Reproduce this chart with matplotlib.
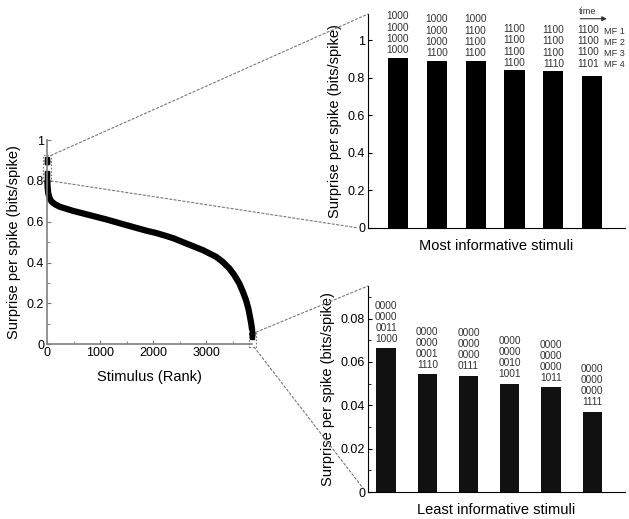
import matplotlib
matplotlib.use("Agg")
import matplotlib.pyplot as plt
from matplotlib.patches import ConnectionPatch, Rectangle
from matplotlib.ticker import MultipleLocator

plt.rcParams["font.family"] = ["Liberation Sans", "DejaVu Sans"]
NARROW = ["Liberation Sans Narrow", "Liberation Sans", "DejaVu Sans"]

# ranked surprise curve
curve_rank = [6, 12, 24, 50, 88, 160, 244, 493, 807, 1120, 1431, 1870,
              2050, 2245, 2400, 2557, 2932, 3183, 3300, 3433, 3530, 3621,
              3690, 3746, 3790, 3821, 3845, 3862]
curve_value = [0.804, 0.77, 0.739, 0.715, 0.698, 0.684, 0.673, 0.653, 0.632,
               0.611, 0.588, 0.556, 0.545, 0.530, 0.517, 0.500, 0.461,
               0.428, 0.405, 0.371, 0.337, 0.297, 0.255, 0.216, 0.175,
               0.134, 0.100, 0.068]

top_rank = [0, 1, 2, 3, 4, 5]
top_values = [0.908, 0.892, 0.892, 0.839, 0.834, 0.812]
top_labels = ["1000\n1000\n1000\n1000", "1000\n1000\n1000\n1100",
              "1000\n1100\n1100\n1100", "1100\n1100\n1100\n1100",
              "1100\n1100\n1100\n1110", "1100\n1100\n1100\n1101"]

bottom_rank = [3863, 3864, 3865, 3866, 3867, 3868]
bottom_values = [0.0662, 0.0542, 0.0537, 0.0500, 0.0482, 0.0371]
bottom_labels = ["0000\n0000\n0011\n1000", "0000\n0000\n0001\n1110",
                 "0000\n0000\n0000\n0111", "0000\n0000\n0010\n1001",
                 "0000\n0000\n0000\n1011", "0000\n0000\n0000\n1111"]

mf_labels = "MF 1\nMF 2\nMF 3\nMF 4"

TEXT_C = "#333333"
CODE_FS = 7.3
CODE_LS = 1.14
MF_FS = 6.6

fig = plt.figure(figsize=(6.29, 5.19), dpi=100)

# ---- left: ranked curve ----
ax = fig.add_axes([0.0747, 0.337, 0.326, 0.393])
ax.plot(curve_rank, curve_value, color="black", lw=4.5,
        solid_capstyle="butt", clip_on=False)
ax.plot(top_rank, top_values, "s", color="black", ms=2.5, clip_on=False)
ax.plot(bottom_rank, bottom_values, "s", color="black", ms=2.5,
        clip_on=False)
ax.set_xlim(0, 3860)
ax.set_ylim(0, 1)
ax.set_xticks([0, 1000, 2000, 3000])
ax.set_yticks([0, 0.2, 0.4, 0.6, 0.8, 1])
ax.set_yticklabels(["0", "0.2", "0.4", "0.6", "0.8", "1"])
ax.xaxis.set_minor_locator(MultipleLocator(500))
ax.yaxis.set_minor_locator(MultipleLocator(0.1))
ax.tick_params(which="both", direction="in", labelsize=9, color="#777777",
               pad=2)
ax.tick_params(which="major", length=3)
ax.tick_params(which="minor", length=2)
for side in ("top", "right"):
    ax.spines[side].set_visible(False)
for side in ("left", "bottom"):
    ax.spines[side].set_color("#808080")
    ax.spines[side].set_linewidth(1.2)
ax.set_xlabel("Stimulus (Rank)", fontsize=10.5, labelpad=8)
ax.set_ylabel("Surprise per spike (bits/spike)", fontsize=10.5, labelpad=4)

box_kw = dict(fill=False, ls=(0, (1.5, 1.5)), lw=0.8, ec="#777777",
              clip_on=False)
ax.add_patch(Rectangle((-75, 0.80), 150, 0.125, **box_kw))
ax.add_patch(Rectangle((3808, -0.015), 132, 0.074, **box_kw))

# ---- top right: most informative ----
x_pos = [1, 2, 3, 4, 5, 6]
ax_t = fig.add_axes([0.585, 0.561, 0.409, 0.412])
ax_t.bar(x_pos, top_values, width=0.52, color="black")
ax_t.set_xlim(0.23, 6.85)
ax_t.set_ylim(0, 1.14)
ax_t.set_xticks([])
ax_t.set_yticks([0, 0.2, 0.4, 0.6, 0.8, 1])
ax_t.set_yticklabels(["0", "0.2", "0.4", "0.6", "0.8", "1"])
ax_t.tick_params(direction="in", labelsize=9, length=3, pad=2)
for side in ("top", "right"):
    ax_t.spines[side].set_visible(False)
ax_t.set_xlabel("Most informative stimuli", fontsize=10.5, labelpad=8)
ax_t.set_ylabel("Surprise per spike (bits/spike)", fontsize=10.5, labelpad=4)
for i, (xv, v, lab) in enumerate(zip(x_pos, top_values, top_labels)):
    last = i == len(x_pos) - 1
    ax_t.annotate(lab, (xv, v), xytext=(-3 if last else 0, 5 if last else 2),
                  textcoords="offset points", ha="center", va="bottom",
                  fontsize=CODE_FS, color=TEXT_C, linespacing=CODE_LS,
                  family=NARROW)
ax_t.annotate(mf_labels, (6.31, top_values[-1]), xytext=(0, 5),
              textcoords="offset points", ha="left", va="bottom",
              fontsize=MF_FS, color=TEXT_C,
              linespacing=CODE_LS * CODE_FS / MF_FS,
              family=NARROW, annotation_clip=False)
ax_t.text(5.66, 1.13, "time", ha="left", va="bottom", fontsize=MF_FS,
          color=TEXT_C, family=NARROW, clip_on=False)
ax_t.annotate("", xy=(6.45, 1.115), xytext=(5.62, 1.115),
              arrowprops=dict(arrowstyle="-|>", color=TEXT_C, lw=0.8,
                              mutation_scale=7),
              annotation_clip=False)

# ---- bottom right: least informative ----
ax_b = fig.add_axes([0.585, 0.052, 0.409, 0.397])
ax_b.bar(x_pos, bottom_values, width=0.47, color="#111111")
ax_b.set_xlim(0.56, 6.8)
ax_b.set_ylim(0, 0.095)
ax_b.set_xticks([])
ax_b.set_yticks([0, 0.02, 0.04, 0.06, 0.08])
ax_b.set_yticklabels(["0", "0.02", "0.04", "0.06", "0.08"])
ax_b.yaxis.set_minor_locator(MultipleLocator(0.01))
ax_b.tick_params(which="both", direction="in", labelsize=9, pad=2)
ax_b.tick_params(which="major", length=3)
ax_b.tick_params(which="minor", length=2)
for side in ("top", "right"):
    ax_b.spines[side].set_visible(False)
ax_b.set_xlabel("Least informative stimuli", fontsize=10.5, labelpad=8)
ax_b.set_ylabel("Surprise per spike (bits/spike)", fontsize=10.5, labelpad=4)
for xv, v, lab in zip(x_pos, bottom_values, bottom_labels):
    ax_b.annotate(lab, (xv, v), xytext=(0, 3), textcoords="offset points",
                  ha="center", va="bottom", fontsize=CODE_FS, color=TEXT_C,
                  linespacing=CODE_LS, family=NARROW)

# ---- dotted connectors ----
line_kw = dict(ls=(0, (2, 2)), lw=0.8, color="#777777")
for xy_a, ax_to, xy_b in [((75, 0.925), ax_t, (0, 1)),
                          ((75, 0.80), ax_t, (-0.04, 0)),
                          ((3940, 0.059), ax_b, (0, 1)),
                          ((3900, -0.015), ax_b, (-0.02, 0.02))]:
    con = ConnectionPatch(xyA=xy_a, coordsA=ax.transData, xyB=xy_b,
                          coordsB=ax_to.transAxes, **line_kw)
    fig.add_artist(con)

fig.savefig("out.png", dpi=100)
